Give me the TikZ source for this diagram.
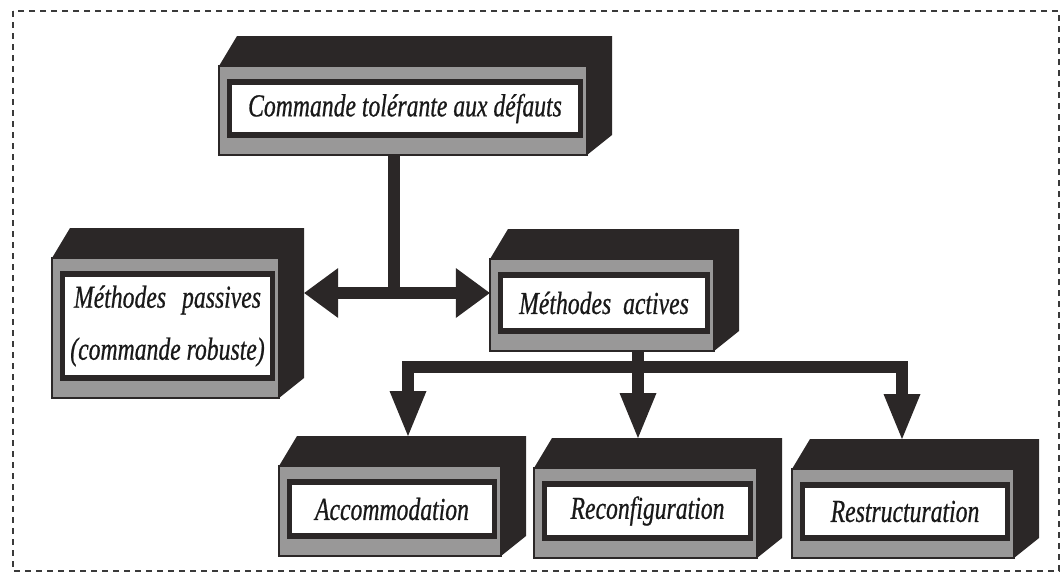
\documentclass[tikz,border=0pt]{standalone}
\usepackage{fontspec}
\newfontfamily\boxfont[FakeStretch=0.74, FakeBold=0.6]{Liberation Serif}
\usetikzlibrary{arrows.meta,calc}
\pgfdeclarelayer{bg}
\pgfsetlayers{bg,main}
\definecolor{blockdark}{HTML}{2B2727}
\definecolor{blockgray}{HTML}{999898}
\definecolor{borderdash}{HTML}{3A3A3A}

\tikzset{
  whitebox/.style={fill=white, inner sep=0pt, align=center, text=black!90,
    font=\boxfont\itshape\fontsize{32}{52}\selectfont},
  frontface/.style={draw=blockdark, line width=1.2pt, fill=blockgray},
  bar/.style={draw=blockdark, line width=12pt, line join=miter},
  HTip/.tip={Triangle[length=34pt, width=50pt, line width=0pt]},
  VTip/.tip={Triangle[length=45pt, width=37pt, line width=0pt]},
  outerframe/.style={draw=borderdash, line width=1.2pt, dash pattern=on 6pt off 5pt},
}

% 3D block: #1 name, (#2,#3)-(#4,#5) white label area, #6 text
\newcommand\blockbox[6]{%
  \pgfmathsetmacro\fxa{#2-13}\pgfmathsetmacro\fya{#3-19}%
  \pgfmathsetmacro\fxb{#4+9}\pgfmathsetmacro\fyb{#5+23}%
  \pgfmathsetmacro\lw{#4-#2}\pgfmathsetmacro\lh{#5-#3}%
  \fill[blockdark] (\fxa,\fya) -- (\fxa+18,\fya-30) -- (\fxb+25,\fya-30)
    -- (\fxb+25,\fyb-20) -- (\fxb,\fyb) -- cycle;
  \draw[frontface] (\fxa,\fya) rectangle (\fxb,\fyb);
  \fill[blockdark] (#2-5,#3-6) rectangle (#4+5,#5+6);
  \node[whitebox, minimum width=\lw pt, minimum height=\lh pt] (#1)
    at ({(#2+#4)/2},{(#3+#5)/2}) {#6};
  \coordinate (#1-back) at ({(#2+#4)/2},\fya-30);
}

\begin{document}
\begin{tikzpicture}[x=1pt,y=-1pt]
  \useasboundingbox (0,0) rectangle (1064,584);
  \draw[outerframe] (13,11) rectangle (1059,571);

  \blockbox{top}{232}{85}{578}{132}{Commande tolérante aux défauts}
  \blockbox{passive}{65}{277}{270}{375}{\makebox[187pt][s]{Méthodes passives}\\(commande robuste)}
  \blockbox{active}{503}{278}{705}{328}{Méthodes\hspace{6pt} actives}
  \blockbox{accom}{292}{485}{492}{533}{Accommodation}
  \blockbox{reconf}{547}{487}{748}{535}{Reconfiguration}
  \blockbox{restr}{805}{488}{1005}{535}{Restructuration}

  \begin{pgfonlayer}{bg}
    \coordinate (j1) at (394,293);
    \coordinate (j2) at (638,367);
    \draw[bar] (j1 |- top.south) -- (j1);
    \draw[bar, HTip-HTip] ($(passive.east |- j1)+(34,0)$) -- ($(active.west |- j1)+(-13,0)$);
    \draw[bar, VTip-VTip] ($(accom-back)+(16,0)$) |- (j2) -| ($(restr-back)+(-3,0)$);
    \draw[bar, -VTip] (j2 |- active.south) -- (j2 |- reconf-back);
  \end{pgfonlayer}
\end{tikzpicture}
\end{document}
